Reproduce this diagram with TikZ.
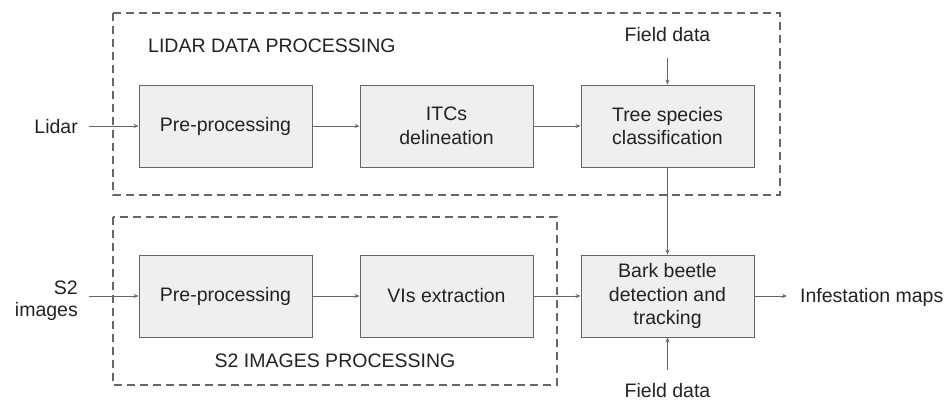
\documentclass[tikz,border=0pt]{standalone}
\usepackage{fontspec}
\setmainfont{Liberation Sans}
\usetikzlibrary{arrows.meta}
\definecolor{FlowGray}{HTML}{666666}
\definecolor{FlowFill}{HTML}{EFEFEF}
\definecolor{FlowText}{HTML}{222222}

\begin{document}
\begin{tikzpicture}[x=1pt,y=-1pt,>={Stealth[length=5pt,width=4pt]},
  stage/.style={draw=FlowGray,fill=FlowFill,line width=0.9pt,minimum width=173pt,
    minimum height=82pt,inner sep=0pt,align=center,text=FlowText,
    font=\fontsize{19.5}{23.5}\selectfont},
  lbl/.style={inner sep=0pt,text=FlowText,font=\fontsize{19.5}{22}\selectfont},
  group/.style={draw=FlowGray,line width=2pt,dash pattern=on 8pt off 5pt},
  arr/.style={->,FlowGray,line width=0.9pt}]
  \useasboundingbox (0,0) rectangle (949,401);
  % dashed groups
  \draw[group] (113,13) rectangle (780,195);
  \draw[group] (113,217) rectangle (557,385);
  \node[lbl,anchor=base west] (lidartitle) at (148,53) {LIDAR DATA PROCESSING};
  \node[lbl,anchor=base] (s2title) at (335,367) {S2 IMAGES PROCESSING};
  % stages
  \node[stage] (pre1) at (225.5,126) {Pre-processing};
  \node[stage] (itc) at (446.5,126) {ITCs\\delineation};
  \node[stage] (tree) at (667.5,126) {Tree species\\classification};
  \node[stage] (pre2) at (225.5,296) {Pre-processing};
  \node[stage] (vis) at (446.5,296) {VIs extraction};
  \node[stage] (bark) at (667.5,296) {Bark beetle\\detection and\\tracking};
  % inputs and outputs
  \node[lbl,anchor=base east] (lidar) at (78,133) {Lidar};
  \node[lbl,anchor=east,align=right] (s2img) at (78,300.5) {S2\\images};
  \node[lbl,anchor=base] (fd1) at (667.5,42) {Field data};
  \node[lbl,anchor=base] (fd2) at (667.5,397) {Field data};
  \node[lbl,anchor=base west] (infest) at (800,302) {Infestation maps};
  % connectors
  \draw[arr,shorten <=11pt] (lidar.east |- pre1.west) -- (pre1.west);
  \draw[arr] (pre1) -- (itc);
  \draw[arr] (itc) -- (tree);
  \draw[arr,shorten <=16pt] (fd1) -- (tree);
  \draw[arr] (tree) -- (bark);
  \draw[arr,shorten <=11pt] (s2img.east |- pre2.west) -- (pre2.west);
  \draw[arr] (pre2) -- (vis);
  \draw[arr] (vis) -- (bark);
  \draw[arr,shorten <=13pt] (fd2) -- (bark);
  \draw[arr,shorten >=13pt] (bark.east) -- (infest.west |- bark.east);
\end{tikzpicture}
\end{document}
